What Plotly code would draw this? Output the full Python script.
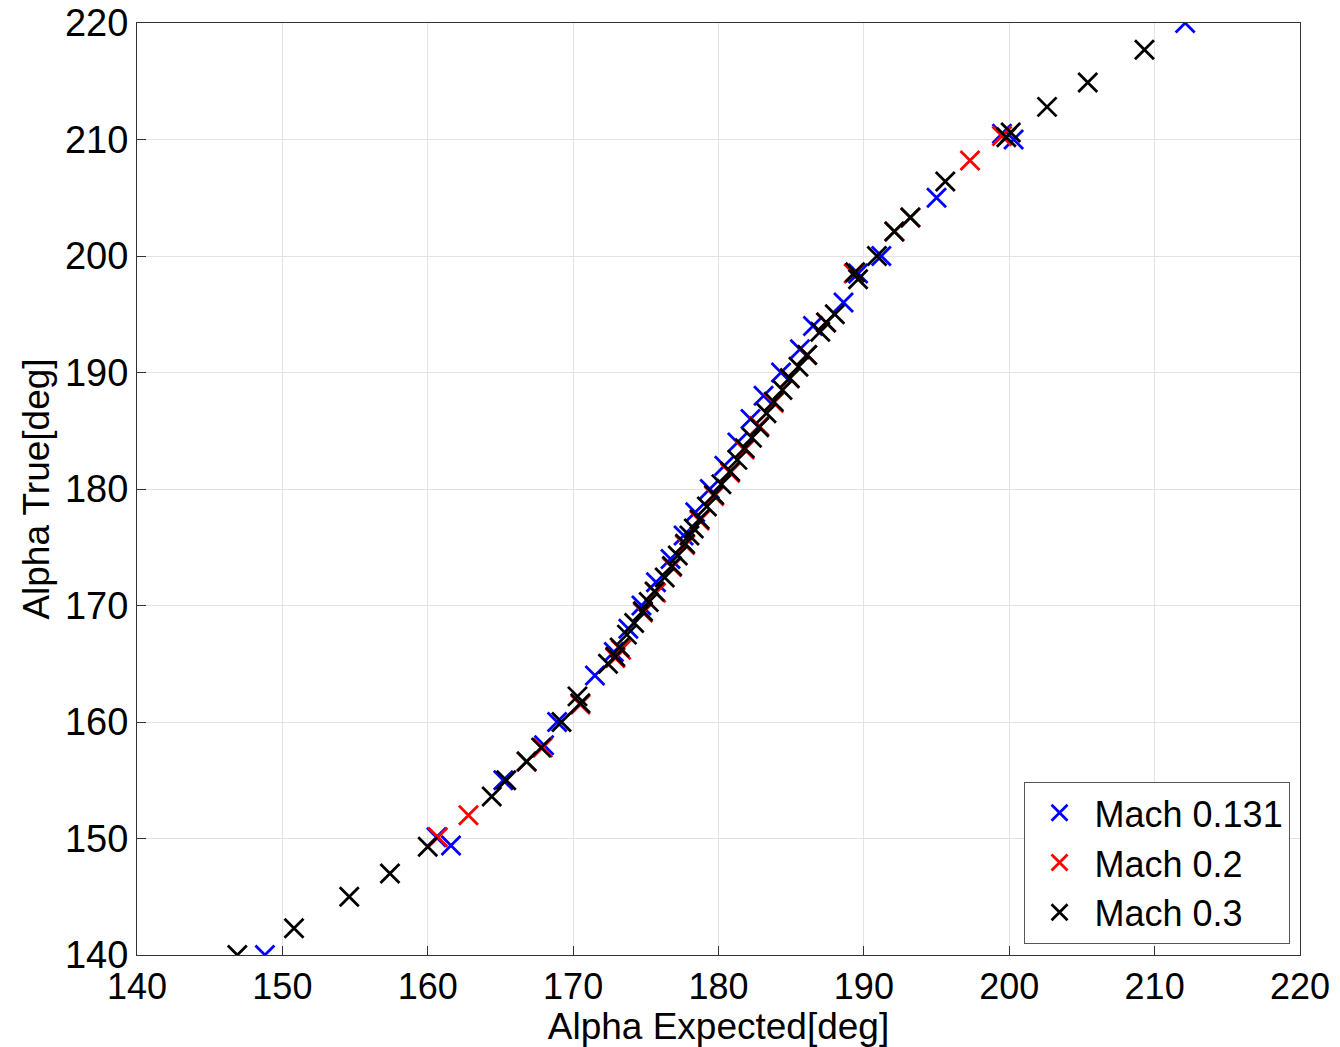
import plotly.graph_objects as go

# Mach 0.131 (blue)
mach0131_x = [148.8, 160.6, 161.6, 165.2, 168.0, 168.9, 171.5, 172.8, 173.8, 174.7, 175.7,
              176.7, 177.6, 178.4, 179.4, 180.4, 181.3, 182.2, 183.1, 184.3, 185.6, 186.5,
              188.6, 189.6, 191.2, 195.0, 199.5, 200.3, 212.1]
mach0131_y = [140.0, 150.1, 149.4, 155.0, 158.0, 160.0, 164.0, 166.0, 168.0, 170.0, 172.0,
              174.0, 176.0, 178.0, 180.0, 182.0, 184.0, 186.0, 188.0, 190.0, 192.0, 194.0,
              196.0, 198.5, 200.0, 205.0, 210.5, 210.0, 220.0]

# Mach 0.2 (red)
mach02_x = [160.7, 162.8, 166.8, 167.9, 170.5, 172.9, 173.3, 174.8, 175.7, 176.8, 177.7,
            178.7, 179.7, 180.8, 181.8, 182.8, 183.8, 184.9, 186.1, 187.4, 189.3, 192.1,
            193.2, 197.3, 199.5]
mach02_y = [150.1, 152.0, 156.6, 157.8, 161.5, 165.5, 166.2, 169.4, 171.1, 173.3, 175.2,
            177.3, 179.4, 181.4, 183.4, 185.4, 187.4, 189.5, 191.5, 194.3, 198.5, 202.1,
            203.3, 208.2, 210.3]

# Mach 0.3 (black)
mach03_x = [146.9, 150.8, 154.6, 157.4, 160.0, 164.4, 165.4, 166.8, 167.8, 169.2, 170.5,
            170.3, 172.4, 172.9, 173.2, 173.7, 174.2, 174.8, 175.2, 175.6, 176.3, 176.8,
            177.2, 177.7, 178.0, 178.3, 178.7, 179.2, 179.7, 180.2, 180.8, 181.3, 181.8,
            182.3, 182.8, 183.3, 183.8, 184.4, 184.9, 185.5, 186.1, 187.0, 187.4, 188.0,
            189.6, 189.4, 190.9, 192.1, 193.2, 195.6, 199.8, 200.1, 202.6, 205.4, 209.3]
mach03_y = [140.0, 142.3, 145.0, 147.0, 149.3, 153.6, 155.0, 156.6, 157.8, 160.0, 161.6,
            162.2, 165.0, 165.6, 166.4, 167.5, 168.5, 169.5, 170.3, 171.2, 172.4, 173.4,
            174.3, 175.3, 176.0, 176.6, 177.4, 178.5, 179.5, 180.4, 181.5, 182.5, 183.5,
            184.4, 185.3, 186.5, 187.5, 188.5, 189.5, 190.5, 191.5, 193.5, 194.3, 195.0,
            198.0, 198.6, 200.0, 202.1, 203.3, 206.4, 210.2, 210.6, 212.8, 214.9, 217.7]

tick_vals = [140, 150, 160, 170, 180, 190, 200, 210, 220]

series = [
    ("Mach 0.131", mach0131_x, mach0131_y, "#0000ff"),
    ("Mach 0.2", mach02_x, mach02_y, "#ff0000"),
    ("Mach 0.3", mach03_x, mach03_y, "#000000"),
]

FONT = "Liberation Sans, Arial"
fig = go.Figure()
for name, xs, ys, c in series:
    fig.add_trace(go.Scatter(
        x=xs, y=ys, mode="markers", name=name,
        marker=dict(symbol="x-thin", size=19, color=c, line=dict(width=2.8, color=c)),
    ))

axis_common = dict(
    range=[140, 220], tickvals=tick_vals, ticks="inside", ticklen=9,
    tickcolor="#333333", showline=True, linecolor="#333333", linewidth=1,
    mirror=True, showgrid=True, gridcolor="#e3e3e3", gridwidth=1,
    zeroline=False, automargin=False,
)

fig.update_layout(
    width=1340, height=1047,
    margin=dict(l=137, r=40, t=23, b=92),
    paper_bgcolor="white", plot_bgcolor="white",
    font=dict(family=FONT, size=36, color="#000"),
    xaxis=dict(**axis_common, tickfont=dict(family=FONT, size=36, color="#000"),
               title=dict(text="Alpha Expected[deg]", standoff=0,
                          font=dict(size=37))),
    yaxis=dict(**axis_common, tickfont=dict(family=FONT, size=38, color="#000"),
               title=dict(text="Alpha True[deg]", standoff=4,
                          font=dict(size=37))),
    legend=dict(x=0.991, y=0.012, xanchor="right", yanchor="bottom",
                bgcolor="white", bordercolor="#555555", borderwidth=1,
                font=dict(size=36), itemwidth=60, tracegroupgap=0),
    showlegend=True,
)

fig.write_html("out.html")
